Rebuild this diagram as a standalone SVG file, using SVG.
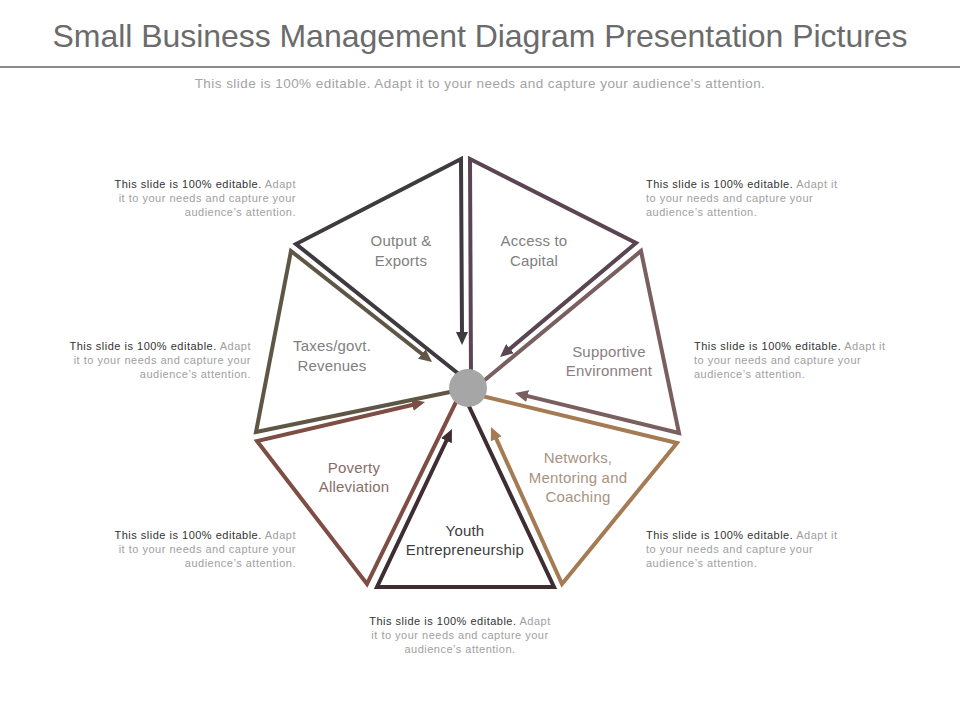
<svg xmlns="http://www.w3.org/2000/svg" width="960" height="720" viewBox="0 0 960 720">
<style>
.title{font-family:"Liberation Sans",Arial,sans-serif;font-size:32px;fill:#6b6b6b;text-anchor:middle}
.sub{font-family:"Liberation Sans",Arial,sans-serif;font-size:13.5px;fill:#a3a3a3;text-anchor:middle;letter-spacing:0.45px}
.note{font-family:"Liberation Sans",Arial,sans-serif;font-size:11px;fill:#a0a0a0;letter-spacing:0.5px}
.note .b{fill:#333333}
.lbl{font-family:"Liberation Sans",Arial,sans-serif;font-size:15px;text-anchor:middle;letter-spacing:0.2px}
.seg{fill:none;stroke-width:4;stroke-linejoin:miter;stroke-linecap:butt}
</style>
<defs>
<marker id="a1" markerUnits="userSpaceOnUse" markerWidth="14" markerHeight="12" refX="3" refY="6" orient="auto"><path d="M0,0 L13,6 L0,12 z" fill="#3f3a3f"/></marker>
<marker id="a2" markerUnits="userSpaceOnUse" markerWidth="14" markerHeight="12" refX="3" refY="6" orient="auto"><path d="M0,0 L13,6 L0,12 z" fill="#5a4652"/></marker>
<marker id="a3" markerUnits="userSpaceOnUse" markerWidth="14" markerHeight="12" refX="3" refY="6" orient="auto"><path d="M0,0 L13,6 L0,12 z" fill="#7a5f60"/></marker>
<marker id="a4" markerUnits="userSpaceOnUse" markerWidth="14" markerHeight="12" refX="3" refY="6" orient="auto"><path d="M0,0 L13,6 L0,12 z" fill="#a57b53"/></marker>
<marker id="a5" markerUnits="userSpaceOnUse" markerWidth="14" markerHeight="12" refX="3" refY="6" orient="auto"><path d="M0,0 L13,6 L0,12 z" fill="#3f2e31"/></marker>
<marker id="a6" markerUnits="userSpaceOnUse" markerWidth="14" markerHeight="12" refX="3" refY="6" orient="auto"><path d="M0,0 L13,6 L0,12 z" fill="#7e4d44"/></marker>
<marker id="a7" markerUnits="userSpaceOnUse" markerWidth="14" markerHeight="12" refX="3" refY="6" orient="auto"><path d="M0,0 L13,6 L0,12 z" fill="#5f5646"/></marker>
</defs>
<rect width="960" height="720" fill="#ffffff"/>
<text class="title" x="480" y="47" textLength="855" lengthAdjust="spacing">Small Business Management Diagram Presentation Pictures</text>
<rect x="0" y="66" width="960" height="2" fill="#8c8c8c"/>
<text class="sub" x="480" y="88">This slide is 100% editable. Adapt it to your needs and capture your audience's attention.</text>

<g id="connectors">
<path class="seg" stroke="#3f3a3f" marker-end="url(#a1)" d="M460,375 L296,244 L461,159 L462,335"/>
<path class="seg" stroke="#5a4652" marker-end="url(#a2)" d="M471,378 L470,159 L636,243 L507.7,350.6"/>
<path class="seg" stroke="#7a5f60" marker-end="url(#a3)" d="M480,384 L641,251 L679,433 L524.7,395.4"/>
<path class="seg" stroke="#a57b53" marker-end="url(#a4)" d="M482,396 L677,443 L562,584 L495.1,436.1"/>
<path class="seg" stroke="#3f2e31" marker-end="url(#a5)" d="M467,402 L554,587 L377,587 L447.7,438"/>
<path class="seg" stroke="#7e4d44" marker-end="url(#a6)" d="M458,398 L367,584 L257,441 L415.3,404.3"/>
<path class="seg" stroke="#5f5646" marker-end="url(#a7)" d="M455,391 L256,432 L291,251 L424.2,355.8"/>
</g>

<g id="hub"><circle cx="468" cy="388" r="19" fill="#a6a6a6"/></g>

<g id="output-exports"><text class="lbl" fill="#7f7f7f" x="401" y="246">Output &amp;</text><text class="lbl" fill="#7f7f7f" x="401" y="266">Exports</text></g>
<g id="access-capital"><text class="lbl" fill="#7f7f7f" x="534" y="246">Access to</text><text class="lbl" fill="#7f7f7f" x="534" y="266">Capital</text></g>
<g id="supportive-environment"><text class="lbl" fill="#8a7e80" x="609" y="357">Supportive</text><text class="lbl" fill="#8a7e80" x="609" y="376">Environment</text></g>
<g id="networks"><text class="lbl" fill="#a8927f" x="578" y="463">Networks,</text><text class="lbl" fill="#a8927f" x="578" y="483">Mentoring and</text><text class="lbl" fill="#a8927f" x="578" y="502">Coaching</text></g>
<g id="youth"><text class="lbl" fill="#3d3d3d" x="465" y="536">Youth</text><text class="lbl" fill="#3d3d3d" x="465" y="555">Entrepreneurship</text></g>
<g id="poverty"><text class="lbl" fill="#8a6d69" x="354" y="473">Poverty</text><text class="lbl" fill="#8a6d69" x="354" y="492">Alleviation</text></g>
<g id="taxes"><text class="lbl" fill="#7f7f7f" x="332" y="351">Taxes/govt.</text><text class="lbl" fill="#7f7f7f" x="332" y="371">Revenues</text></g>

<g id="note-top-left" class="note" text-anchor="end">
<text x="296" y="188"><tspan class="b">This slide is 100% editable.</tspan> Adapt</text>
<text x="296" y="202">it to your needs and capture your</text>
<text x="296" y="216">audience’s attention.</text>
</g>
<g id="note-top-right" class="note" text-anchor="start">
<text x="646" y="188"><tspan class="b">This slide is 100% editable.</tspan> Adapt it</text>
<text x="646" y="202">to your needs and capture your</text>
<text x="646" y="216">audience’s attention.</text>
</g>
<g id="note-mid-left" class="note" text-anchor="end">
<text x="251" y="350"><tspan class="b">This slide is 100% editable.</tspan> Adapt</text>
<text x="251" y="364">it to your needs and capture your</text>
<text x="251" y="378">audience’s attention.</text>
</g>
<g id="note-mid-right" class="note" text-anchor="start">
<text x="694" y="350"><tspan class="b">This slide is 100% editable.</tspan> Adapt it</text>
<text x="694" y="364">to your needs and capture your</text>
<text x="694" y="378">audience’s attention.</text>
</g>
<g id="note-bottom-left" class="note" text-anchor="end">
<text x="296" y="539"><tspan class="b">This slide is 100% editable.</tspan> Adapt</text>
<text x="296" y="553">it to your needs and capture your</text>
<text x="296" y="567">audience’s attention.</text>
</g>
<g id="note-bottom-right" class="note" text-anchor="start">
<text x="646" y="539"><tspan class="b">This slide is 100% editable.</tspan> Adapt it</text>
<text x="646" y="553">to your needs and capture your</text>
<text x="646" y="567">audience’s attention.</text>
</g>
<g id="note-bottom" class="note" text-anchor="middle">
<text x="460" y="625"><tspan class="b">This slide is 100% editable.</tspan> Adapt</text>
<text x="460" y="639">it to your needs and capture your</text>
<text x="460" y="653">audience’s attention.</text>
</g>
</svg>
